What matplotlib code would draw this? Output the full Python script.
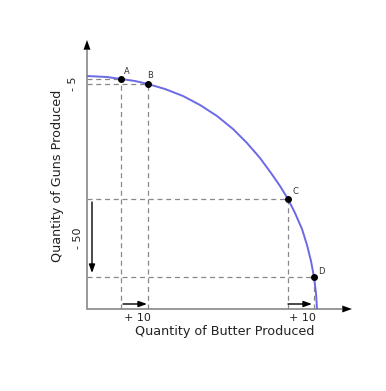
"""
Production possibility frontier: guns vs butter.
"""

import matplotlib.pyplot as plt

# frontier (butter, guns) in arbitrary units
butter = [0, 20, 34, 48, 61, 78, 96, 113, 130, 146, 160, 173, 184, 193, 201,
          208, 215, 220, 224, 227, 229, 230]
guns = [233, 232, 230, 228, 225, 220, 213, 204, 193, 180, 166, 151, 136, 123, 110,
        96, 80, 64, 48, 32, 16, 0]

point_names = ["A", "B", "C", "D"]
point_butter = [34, 61, 201, 227]
point_guns = [230, 225, 110, 32]

W, H = 386, 391
fig = plt.figure(figsize=(W / 100, H / 100), dpi=100)
ax = fig.add_axes([87 / W, 82 / H, 265 / W, 269 / H])
ax.set_xlim(0, 265)
ax.set_ylim(0, 269)
ax.axis("off")

# axes: gray lines with black arrow heads
ax.plot([0, 0], [0, 258], color="#999999", lw=1.4, clip_on=False)
ax.plot([0, 254], [0, 0], color="#999999", lw=1.4, clip_on=False)
head = dict(arrowstyle="-|>,head_length=0.7,head_width=0.25", color="black",
            lw=0, shrinkA=0, shrinkB=0)
ax.annotate("", xy=(0, 269), xytext=(0, 255), arrowprops=head, annotation_clip=False)
ax.annotate("", xy=(265, 0), xytext=(251, 0), arrowprops=head, annotation_clip=False)

# guide lines
for bx, gy in zip(point_butter, point_guns):
    ax.plot([0, bx], [gy, gy], ls=(0, (4, 3)), color="#888888", lw=0.9)
    ax.plot([bx, bx], [0, gy], ls=(0, (4, 3)), color="#888888", lw=0.9)

ax.plot(butter, guns, color="#6a6ae6", lw=1.4)
ax.plot(point_butter, point_guns, "o", color="black", ms=4)

offsets = {"A": (6, 7), "B": (2, 8), "C": (7, 7), "D": (7, 6)}
for name, bx, gy in zip(point_names, point_butter, point_guns):
    dx, dy = offsets[name]
    ax.text(bx + dx, gy + dy, name, fontsize=6, color="#333333", ha="center", va="center")

# change arrows
arr = dict(arrowstyle="-|>,head_length=0.5,head_width=0.18", color="black", lw=1,
           shrinkA=0, shrinkB=0)
ax.annotate("", xy=(5, 36), xytext=(5, 107), arrowprops=arr)
ax.annotate("", xy=(60, 5), xytext=(36, 5), arrowprops=arr)
ax.annotate("", xy=(225, 5), xytext=(201, 5), arrowprops=arr)

txt = dict(fontsize=8, color="#222222")
ax.text(50, -9, "+ 10", ha="center", va="center", **txt)
ax.text(215, -9, "+ 10", ha="center", va="center", **txt)
ax.text(-14, 225, "- 5", ha="center", va="center", rotation=90, **txt)
ax.text(-9, 71, "- 50", ha="center", va="center", rotation=90, **txt)

lab = dict(fontsize=9.2, color="#222222")
ax.text(138, -23, "Quantity of Butter Produced", ha="center", va="center", **lab)
ax.text(-29, 133, "Quantity of Guns Produced", ha="center", va="center", rotation=90, **lab)

fig.savefig("out.png", dpi=100)
